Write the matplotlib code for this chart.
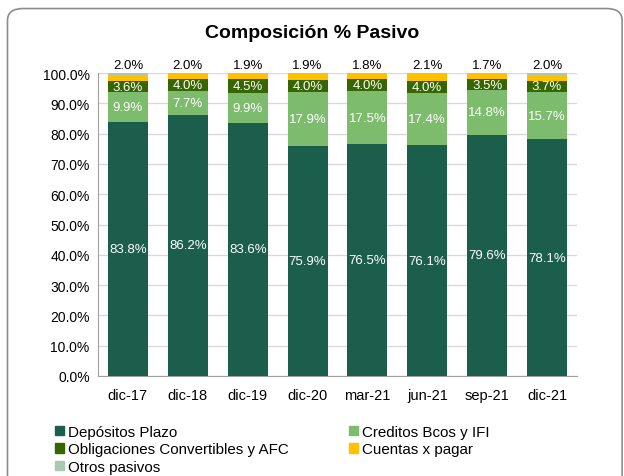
import matplotlib.pyplot as plt
from matplotlib.patches import FancyBboxPatch, Patch
import numpy as np

plt.rcParams['font.family'] = ['Liberation Sans', 'DejaVu Sans']

# datos
periodos = ['dic-17', 'dic-18', 'dic-19', 'dic-20', 'mar-21', 'jun-21', 'sep-21', 'dic-21']
depositos = [83.8, 86.2, 83.6, 75.9, 76.5, 76.1, 79.6, 78.1]
creditos = [9.9, 7.7, 9.9, 17.9, 17.5, 17.4, 14.8, 15.7]
obligaciones = [3.6, 4.0, 4.5, 4.0, 4.0, 4.0, 3.5, 3.7]
cuentas = [2.0, 2.0, 1.9, 1.9, 1.8, 2.1, 1.7, 2.0]
otros = [0.7, 0.1, 0.1, 0.3, 0.2, 0.4, 0.4, 0.5]

c_dep = '#1b5e4b'
c_cred = '#7dbb6d'
c_obl = '#356600'
c_cxp = '#ffc000'
c_otr = '#a8c8b4'

fig = plt.figure(figsize=(6.24, 4.77), dpi=100)
# marco redondeado
fig.patches.append(FancyBboxPatch((0.012, -0.05), 0.985, 1.03, boxstyle='round,pad=0,rounding_size=0.025',
                                  transform=fig.transFigure, facecolor='none', edgecolor='#8c8c8c', lw=1.2,
                                  zorder=-1))

ax = fig.add_axes([98/624, 1-377/477, 479/624, 303/477])
x = np.arange(len(periodos))
w = 0.667
dep = np.array(depositos) / 100
cre = np.array(creditos) / 100
obl = np.array(obligaciones) / 100
cxp = np.array(cuentas) / 100
otr = np.array(otros) / 100

ax.bar(x, dep, w, color=c_dep, zorder=3)
ax.bar(x, cre, w, bottom=dep, color=c_cred, zorder=3)
ax.bar(x, obl, w, bottom=dep+cre, color=c_obl, zorder=3)
ax.bar(x, cxp, w, bottom=dep+cre+obl, color=c_cxp, zorder=3)
ax.bar(x, otr, w, bottom=dep+cre+obl+cxp, color=c_otr, zorder=3)

for i in range(len(periodos)):
    ax.text(x[i], dep[i]/2, f'{depositos[i]:.1f}%', ha='center', va='center', color='white', fontsize=9.5, zorder=4)
    ax.text(x[i], dep[i] + cre[i]/2, f'{creditos[i]:.1f}%', ha='center', va='center', color='white', fontsize=9.5, zorder=4)
    ax.text(x[i], dep[i] + cre[i] + obl[i]/2, f'{obligaciones[i]:.1f}%', ha='center', va='center', color='white', fontsize=9.5, zorder=4)
    ax.text(x[i], 1.005, f'{cuentas[i]:.1f}%', ha='center', va='bottom', color='black', fontsize=9.5, zorder=4)

ax.set_xlim(-0.5, 7.5)
ax.set_ylim(0, 1)
ax.set_yticks(np.arange(0, 1.01, 0.1))
ax.set_yticklabels([f'{v*100:.1f}%' for v in np.arange(0, 1.01, 0.1)], fontsize=10)
ax.set_xticks(x)
ax.set_xticklabels(periodos, fontsize=10.5)
ax.tick_params(axis='y', length=0, pad=6)
ax.tick_params(axis='x', length=0, pad=9)
ax.grid(axis='y', color='#d9d9d9', lw=1, zorder=0)
for s in ['top', 'right']:
    ax.spines[s].set_visible(False)
ax.spines['left'].set_color('#a0a0a0')
ax.spines['bottom'].set_color('#a0a0a0')

fig.text(0.5, 1-33/477, 'Composición % Pasivo', ha='center', va='center', fontsize=14, fontweight='bold')

handles = [Patch(color=c_dep), Patch(color=c_obl), Patch(color=c_otr), Patch(color=c_cred), Patch(color=c_cxp)]
labels = ['Depósitos Plazo', 'Obligaciones Convertibles y AFC', 'Otros pasivos', 'Creditos Bcos y IFI', 'Cuentas x pagar']
fig.legend(handles, labels, ncol=2, loc='upper left', bbox_to_anchor=(55/624, 1-426/477), frameon=False,
           fontsize=10.9, handlelength=0.6, handleheight=0.6, handletextpad=0.25, labelspacing=0.22, columnspacing=4.0,
           borderpad=0, borderaxespad=0)

plt.savefig('out.png', dpi=100)
